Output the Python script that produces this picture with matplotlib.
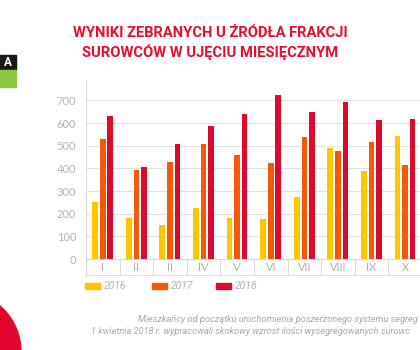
import matplotlib.pyplot as plt
from matplotlib.patches import Rectangle, Circle

# data
months = ["I", "II", "II", "IV", "V", "VI", "VII", "VIII", "IX", "X"]
years = ["2016", "2017", "2018"]
v2016 = [252, 183, 150, 225, 182, 175, 274, 490, 389, 542]
v2017 = [531, 392, 427, 506, 457, 423, 539, 477, 515, 413]
v2018 = [631, 404, 509, 586, 640, 723, 649, 693, 612, 620]
yticks = [0, 100, 200, 300, 400, 500, 600, 700]

colors = ["#fcc600", "#f25a0a", "#dc0a2d"]
title_red = "#e3102f"
grey_txt = "#b3b3b3"
grid_col = "#e2e2e2"

W, H = 420, 350


def fx(x):
    return x / W


def fy(y):
    return 1 - y / H


fig = plt.figure(figsize=(4.2, 3.5), dpi=100)
fig.patch.set_facecolor("white")

# title
fig.text(0.5, fy(33), "WYNIKI ZEBRANYCH U ŹRÓDŁA FRAKCJI", ha="center", va="center",
         color=title_red, fontsize=10.6, fontweight="bold", family="Roboto")
fig.text(0.5, fy(52), "SUROWCÓW W UJĘCIU MIESIĘCZNYM", ha="center", va="center",
         color=title_red, fontsize=10.6, fontweight="bold", family="Roboto")

# chart
ax = fig.add_axes([fx(86), fy(276), 1 - fx(86), fy(80) - fy(276)])
ax.set_xlim(-0.5, 9.44)
ax.set_ylim(-75, 790)

offsets = [-0.23, 0, 0.22]
bw = 0.17
for vals, off, c in zip([v2016, v2017, v2018], offsets, colors):
    ax.bar([i + off for i in range(len(months))], vals, width=bw, color=c, zorder=3)

for t in yticks:
    ax.axhline(t, color="#d8d8d8" if t == 0 else grid_col, lw=0.8, zorder=1)
ax.axhline(-75, color="#d8d8d8", lw=1.2, zorder=1)
for i in range(len(months) + 1):
    ax.plot([i - 0.5, i - 0.5], [-75, 0], color="#dcdcdc", lw=0.8, zorder=1)
for i, m in enumerate(months):
    ax.text(i, -37, m, ha="center", va="center", color="#b0b0b0", fontsize=8, family="Lato")

ax.set_yticks(yticks)
ax.set_yticklabels([str(t) for t in yticks], color=grey_txt, fontsize=8, family="Lato")
ax.tick_params(axis="y", length=0, pad=7)
ax.set_xticks([])
for s in ["top", "right", "bottom"]:
    ax.spines[s].set_visible(False)
ax.spines["left"].set_color("#d8d8d8")
ax.spines["left"].set_linewidth(0.8)

# legend
leg_x = [85, 152, 216]
for x0, yr, c in zip(leg_x, years, colors):
    fig.patches.append(Rectangle((fx(x0), fy(289)), fx(15), 6 / H, color=c,
                                 transform=fig.transFigure, figure=fig))
    fig.text(fx(x0 + 19), fy(286), yr, ha="left", va="center", color=grey_txt,
             fontsize=7.5, style="italic", family="Roboto")

# footer (cropped at the right edge, as in the source image)
fig.text(fx(138), fy(319), "Mieszkańcy od początku uruchomienia poszerzonego systemu segreg",
         ha="left", va="center", color="#a8a8a8", fontsize=6.7, style="italic", family="Roboto")
fig.text(fx(91), fy(332), "1 kwietnia 2018 r. wypracowali skokowy wzrost ilości wysegregowanych surowc",
         ha="left", va="center", color="#a8a8a8", fontsize=6.7, style="italic", family="Roboto")

# side decorations
fig.patches.append(Rectangle((0, fy(70)), fx(16), 15 / H, color="#1a1a1a",
                             transform=fig.transFigure, figure=fig))
fig.patches.append(Rectangle((0, fy(87)), fx(16), 17 / H, color="#8cc63f",
                             transform=fig.transFigure, figure=fig))
fig.text(fx(8), fy(62.5), "A", ha="center", va="center", color="white",
         fontsize=8.5, fontweight="bold", family="Roboto")

circ_ax = fig.add_axes([0, 0, 1, 1], zorder=-1)
circ_ax.set_xlim(0, W)
circ_ax.set_ylim(H, 0)
circ_ax.axis("off")
circ_ax.add_patch(Circle((-40, 352), 61, color="#e2062c"))

fig.savefig("out.png", dpi=100)
